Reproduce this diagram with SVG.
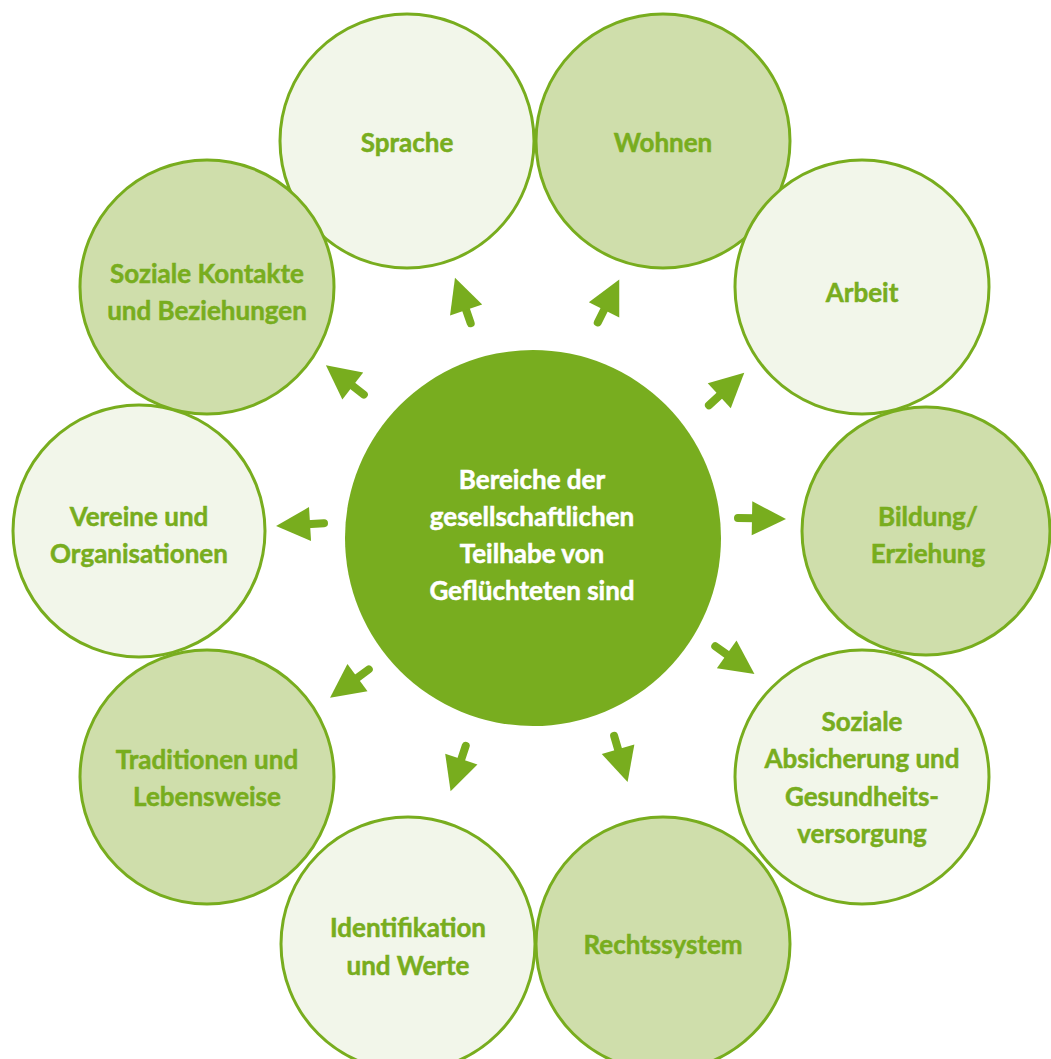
<svg xmlns="http://www.w3.org/2000/svg" width="1051" height="1059" viewBox="0 0 1051 1059">
  <style>
    .area { stroke: #78ad1e; stroke-width: 3; }
    .light { fill: #f2f6ea; }
    .mid { fill: #cfdeab; }
    .label { font-family: Lato, "Open Sans", "DejaVu Sans", sans-serif; font-weight: bold; font-size: 26px; fill: #78ad1e; stroke: #78ad1e; stroke-width: 0.5; text-anchor: middle; }
    .hub-label { fill: #ffffff; stroke: #ffffff; }
    .arrow-stem { stroke: #78ad1e; stroke-width: 8; stroke-linecap: round; fill: none; }
    .arrow-head { fill: #78ad1e; }
  </style>
  <defs>
    <!-- arrow pointing along +x, tail at the origin -->
    <g id="arrow">
      <line class="arrow-stem" x1="4" y1="0" x2="21" y2="0"/>
      <polygon class="arrow-head" points="18,-17 52,0 18,17"/>
    </g>
  </defs>

  <rect width="1051" height="1059" fill="#ffffff"/>

  <!-- outer areas, clockwise from the top -->
  <g id="sprache">
    <circle class="area light" cx="407" cy="141" r="127"/>
    <text class="label" x="407" y="152">Sprache</text>
  </g>
  <g id="wohnen">
    <circle class="area mid" cx="663" cy="141" r="127"/>
    <text class="label" x="663" y="152">Wohnen</text>
  </g>
  <g id="arbeit">
    <circle class="area light" cx="862" cy="287" r="127"/>
    <text class="label" x="862" y="302">Arbeit</text>
  </g>
  <g id="bildung">
    <circle class="area mid" cx="926" cy="531" r="124"/>
    <text class="label" x="928" y="526">Bildung/</text>
    <text class="label" x="928" y="563">Erziehung</text>
  </g>
  <g id="soziale-absicherung">
    <circle class="area light" cx="862" cy="777" r="127"/>
    <text class="label" x="862" y="731">Soziale</text>
    <text class="label" x="862" y="768">Absicherung und</text>
    <text class="label" x="862" y="806">Gesundheits-</text>
    <text class="label" x="862" y="843">versorgung</text>
  </g>
  <g id="rechtssystem">
    <circle class="area mid" cx="663" cy="944" r="127"/>
    <text class="label" x="663" y="954">Rechtssystem</text>
  </g>
  <g id="identifikation">
    <circle class="area light" cx="408" cy="944" r="127"/>
    <text class="label" x="408" y="937">Identifikation</text>
    <text class="label" x="408" y="975">und Werte</text>
  </g>
  <g id="traditionen">
    <circle class="area mid" cx="207" cy="777" r="127"/>
    <text class="label" x="207" y="769">Traditionen und</text>
    <text class="label" x="207" y="806">Lebensweise</text>
  </g>
  <g id="vereine">
    <circle class="area light" cx="139" cy="531" r="126"/>
    <text class="label" x="139" y="526">Vereine und</text>
    <text class="label" x="139" y="563">Organisationen</text>
  </g>
  <g id="soziale-kontakte">
    <circle class="area mid" cx="207" cy="287" r="127"/>
    <text class="label" x="207" y="283">Soziale Kontakte</text>
    <text class="label" x="207" y="320">und Beziehungen</text>
  </g>

  <!-- hub -->
  <g id="hub">
    <circle cx="533" cy="538" r="188" fill="#78ad1f"/>
    <text class="label hub-label" x="532" y="489">Bereiche der</text>
    <text class="label hub-label" x="532" y="526">gesellschaftlichen</text>
    <text class="label hub-label" x="532" y="563">Teilhabe von</text>
    <text class="label hub-label" x="532" y="600">Geflüchteten sind</text>
  </g>

  <!-- connectors from the hub to each area -->
  <g id="connectors">
    <use href="#arrow" transform="translate(472,327) rotate(-109.1)"/>
    <use href="#arrow" transform="translate(596,326) rotate(-63.4)"/>
    <use href="#arrow" transform="translate(706,408) rotate(-42.6)"/>
    <use href="#arrow" transform="translate(734,518) rotate(1)"/>
    <use href="#arrow" transform="translate(712,644) rotate(35.3)"/>
    <use href="#arrow" transform="translate(613,732) rotate(73.7)"/>
    <use href="#arrow" transform="translate(467,742) rotate(108.4)"/>
    <use href="#arrow" transform="translate(372,667) rotate(143.8)"/>
    <use href="#arrow" transform="translate(328,523) rotate(176.6)"/>
    <use href="#arrow" transform="translate(367,397) rotate(-142.2)"/>
  </g>
</svg>
